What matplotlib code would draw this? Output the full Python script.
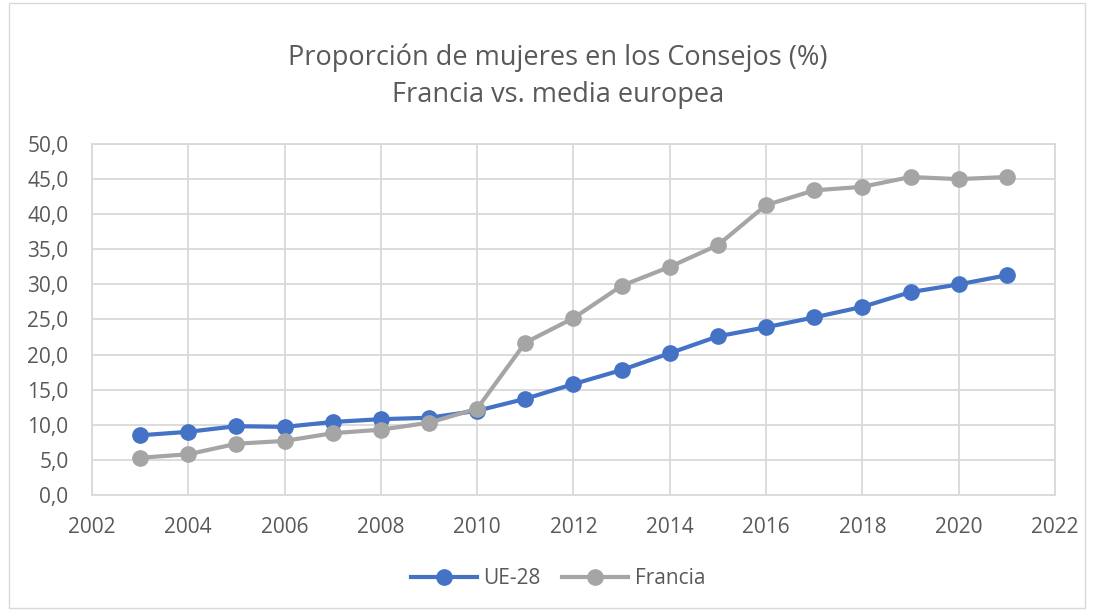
import matplotlib
matplotlib.use("Agg")
import matplotlib.pyplot as plt
from matplotlib.patches import Rectangle
from matplotlib.ticker import FuncFormatter, MultipleLocator

plt.rcParams['font.family'] = ['Open Sans', 'DejaVu Sans']

# datos
years = [2003, 2004, 2005, 2006, 2007, 2008, 2009, 2010, 2011, 2012,
         2013, 2014, 2015, 2016, 2017, 2018, 2019, 2020, 2021]
ue28 = [8.5, 9.0, 9.8, 9.7, 10.4, 10.8, 11.0, 12.0, 13.7, 15.8,
        17.8, 20.2, 22.6, 23.9, 25.3, 26.8, 28.9, 30.0, 31.3]
francia = [5.3, 5.8, 7.3, 7.7, 8.8, 9.3, 10.3, 12.3, 21.7, 25.2,
           29.8, 32.5, 35.6, 41.3, 43.4, 43.9, 45.3, 45.0, 45.3]

blue = '#4472C4'
grey = '#A5A5A5'
txt = '#595959'

fig = plt.figure(figsize=(10.94, 6.11), dpi=100)
ax = fig.add_axes([0.0841, 0.1899, 0.8802, 0.5744])

# borde del área del gráfico (estilo Excel)
fig.patches.append(Rectangle((0.008, 0.005), 0.984, 0.99, transform=fig.transFigure,
                             fill=False, edgecolor='#D9D9D9', linewidth=1))

ax.plot(years, ue28, color=blue, lw=3, marker='o', ms=11, label='UE-28', zorder=3)
ax.plot(years, francia, color=grey, lw=3, marker='o', ms=11, label='Francia', zorder=3)

ax.set_xlim(2002, 2022)
ax.set_ylim(0, 50)
ax.xaxis.set_major_locator(MultipleLocator(2))
ax.yaxis.set_major_locator(MultipleLocator(5))
ax.yaxis.set_major_formatter(FuncFormatter(lambda v, p: f'{v:.1f}'.replace('.', ',')))

ax.grid(True, color='#D9D9D9', lw=1.3)
ax.set_axisbelow(True)
for s in ax.spines.values():
    s.set_color('#D9D9D9')
    s.set_linewidth(1.3)
ax.tick_params(length=0, labelsize=15, colors=txt)
ax.tick_params(axis='y', pad=17)
ax.tick_params(axis='x', pad=16)

fig.text(0.51, 0.906, 'Proporción de mujeres en los Consejos (%)', ha='center', va='center',
         fontsize=19.5, color=txt)
fig.text(0.51, 0.845, 'Francia vs. media europea', ha='center', va='center',
         fontsize=19.5, color=txt)

fig.legend(loc='center', bbox_to_anchor=(0.51, 0.053), ncol=2, frameon=False,
           fontsize=15, labelcolor=txt, handlelength=3.2, columnspacing=1.0, handletextpad=0.3)

fig.savefig('out.png', dpi=100)
